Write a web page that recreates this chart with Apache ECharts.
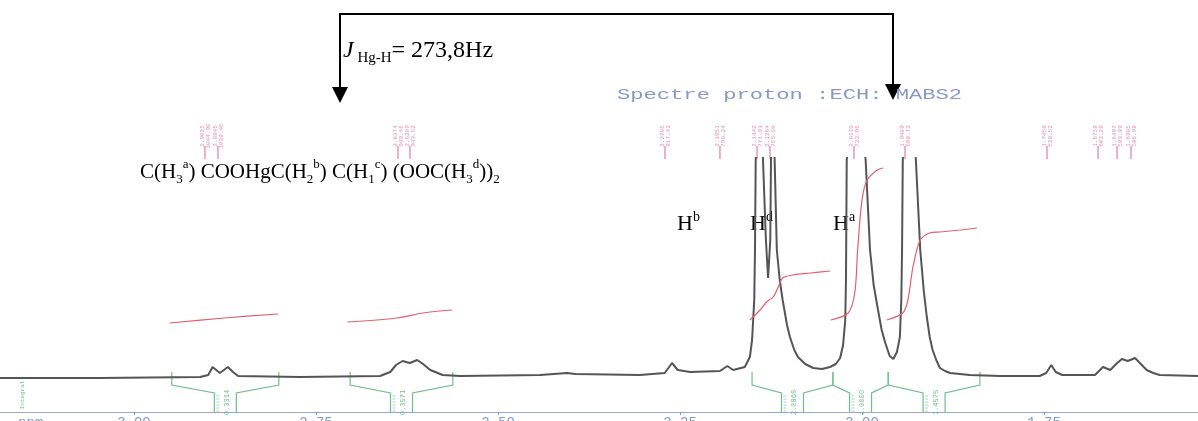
<!DOCTYPE html>
<html><head><meta charset="utf-8">
<script src="https://cdn.jsdelivr.net/npm/echarts@6/dist/echarts.min.js"></script>
<style>html,body{margin:0;padding:0;background:#fff}#c{width:1198px;height:421px}</style>
</head><body><div id="c"></div>
<script>
// ---- data (ppm, intensity above baseline) ----
const tickLabels = [3.00, 2.75, 2.50, 2.25, 2.00, 1.75];
const spectrum = [[3.184,0],[3.047,0],[2.909,1],[2.898,3],[2.892,11],[2.882,5],[2.871,11],[2.864,6],[2.857,2],[2.772,1],[2.662,2],[2.648,6],[2.640,13],[2.631,17],[2.621,15],[2.611,18],[2.603,14],[2.593,8],[2.576,3],[2.552,2],[2.442,3],[2.405,5],[2.394,4],[2.305,3],[2.271,5],[2.261,15],[2.253,8],[2.236,6],[2.195,7],[2.185,12],[2.177,8],[2.161,11],[2.154,21],[2.151,38],[2.148,78],[2.147,128],[2.146,218],[2.140,290],[2.136,218],[2.132,138],[2.129,100],[2.126,138],[2.125,218],[2.122,290],[2.120,218],[2.117,128],[2.113,98],[2.109,78],[2.103,53],[2.099,41],[2.093,28],[2.088,21],[2.078,14],[2.067,10],[2.055,9],[2.044,11],[2.036,14],[2.030,20],[2.026,33],[2.023,58],[2.022,98],[2.021,218],[2.008,300],[1.995,218],[1.989,128],[1.984,93],[1.978,68],[1.973,48],[1.968,35],[1.962,22],[1.957,19],[1.952,26],[1.948,41],[1.946,78],[1.945,128],[1.944,218],[1.935,300],[1.926,218],[1.920,128],[1.915,86],[1.911,61],[1.907,41],[1.903,28],[1.898,18],[1.893,10],[1.886,7],[1.879,5],[1.852,3],[1.810,2],[1.756,2],[1.747,5],[1.740,13],[1.734,6],[1.725,3],[1.680,3],[1.669,11],[1.659,8],[1.651,14],[1.643,19],[1.635,17],[1.625,20],[1.617,14],[1.609,8],[1.600,5],[1.591,3],[1.5385,2]];
const integral1 = [[2.951,55],[2.876,60],[2.802,64]];
const integral2 = [[2.707,56],[2.639,60],[2.603,65],[2.563,68]];
const integral3 = [[2.154,58],[2.140,68],[2.131,76],[2.122,81],[2.115,91],[2.109,100],[2.095,103],[2.071,105],[2.044,107]];
const integral4 = [[2.043,58],[2.019,65],[2.010,85],[2.006,128],[2.000,178],[1.993,198],[1.979,208],[1.971,210]];
const integral5 = [[1.966,58],[1.944,65],[1.937,78],[1.930,111],[1.920,138],[1.907,145],[1.893,146],[1.865,148],[1.842,150]];
const integralRanges = [[2.948,2.801],[2.703,2.562],[2.151,2.040],[2.040,1.964],[1.964,1.838]];
const integralValues = ['0.3314','0.3571','2.0868','1.0000','1.4575'];
const peakPicks = [2.9025,2.8846,2.6374,2.6209,2.2706,2.1951,2.1442,2.1264,2.0110,1.9409,1.7459,1.6758,1.6497,1.6305];

const X_MIN = 1.5385, X_MAX = 3.184;
const green = '#6fbf8e', pink = '#e78fb2', red = '#e1606f', axisBlue = '#9aa6d2';

const chart = echarts.init(document.getElementById('c'), null, {renderer:'canvas'});
const xBase = {type:'value', min:X_MIN, max:X_MAX, inverse:true, splitLine:{show:false}};
const option = {
  animation:false,
  backgroundColor:'#fff',
  grid:[{left:0,right:0,top:0,bottom:9,containLabel:false,outerBoundsMode:'none'},
        {left:0,right:0,top:158,bottom:9,containLabel:false,outerBoundsMode:'none'}],
  xAxis:[
    Object.assign({}, xBase, {gridIndex:0,
      axisLine:{lineStyle:{color:axisBlue,width:1}},
      axisTick:{customValues:tickLabels,length:3,lineStyle:{color:'#8b96c8'}},
      axisLabel:{customValues:tickLabels,formatter:v=>v.toFixed(2),color:'#8b96c8',fontFamily:'Liberation Mono',fontSize:14,margin:4}}),
    Object.assign({}, xBase, {gridIndex:1,show:false})
  ],
  yAxis:[
    {type:'value',gridIndex:0,min:0,max:412,show:false},
    {type:'value',gridIndex:1,min:-34,max:220,show:false}
  ],
  series:[
    {type:'line',xAxisIndex:1,yAxisIndex:1,data:spectrum,showSymbol:false,clip:true,
     lineStyle:{color:'#555',width:2},z:3},
    ...[integral1,integral2,integral3,integral4,integral5].map(d=>({type:'line',xAxisIndex:1,yAxisIndex:1,data:d,showSymbol:false,smooth:0.3,clip:false,lineStyle:{color:red,width:1.2},z:4})),
    {type:'custom',xAxisIndex:1,yAxisIndex:1,data:integralRanges.map((r,i)=>[r[0],r[1],i]),
     renderItem:(params,api)=>{
       const l=api.value(0), r=api.value(1);
       const pl1=api.coord([l,6]), pl2=api.coord([l,-7]);
       const pr1=api.coord([r,6]), pr2=api.coord([r,-7]);
       const by=api.coord([l,-15])[1], bb=api.coord([l,-34])[1];
       const cx=(pl1[0]+pr1[0])/2, hw=11;
       const st={stroke:green,fill:null,lineWidth:1.2};
       const rungs=[];
       for(let yy=by+3; yy<bb; yy+=3){ rungs.push({type:'line',shape:{x1:cx-hw+2,y1:yy,x2:cx-hw+5,y2:yy},style:{stroke:green,lineWidth:0.6}}); }
       return {type:'group',children:[
         {type:'polyline',shape:{points:[pl1,pl2,[cx-hw,by],[cx-hw,bb]]},style:st},
         {type:'polyline',shape:{points:[pr1,pr2,[cx+hw,by],[cx+hw,bb]]},style:st},
         {type:'text',x:cx+2,y:(by+bb)/2,rotation:Math.PI/2,style:{text:integralValues[params.dataIndex],fontSize:7,fill:green,align:'center',verticalAlign:'middle',fontFamily:'Liberation Mono'}}
       ].concat(rungs)};
     },z:2},
    {type:'custom',xAxisIndex:0,yAxisIndex:0,data:peakPicks.map(p=>[p,0]),
     renderItem:(params,api)=>{
       const p=api.value(0);
       const a=api.coord([p,253]), b=api.coord([p,266]), t=api.coord([p,276]);
       return {type:'group',children:[
         {type:'line',shape:{x1:a[0],y1:a[1],x2:b[0],y2:b[1]},style:{stroke:pink,lineWidth:1.4}},
         {type:'text',x:t[0],y:t[1],rotation:Math.PI/2,style:{text:p.toFixed(4)+'\n'+(p*360).toFixed(2),fontSize:6,lineHeight:6,fill:pink,align:'center',verticalAlign:'middle',fontFamily:'Liberation Mono'}}
       ]};
     },z:2}
  ],
  graphic:[
    {type:'polyline',shape:{points:[[340,90],[340,14],[893,14],[893,86]]},style:{stroke:'#000',lineWidth:2,fill:null}},
    {type:'polygon',shape:{points:[[332,87],[348,87],[340,103]]},style:{fill:'#000'}},
    {type:'polygon',shape:{points:[[885,84],[901,84],[893,100]]},style:{fill:'#000'}},
    {type:'text',x:343,y:36,style:{text:'{i|J}{s| Hg-H}{m|= 273,8Hz}',rich:{
      i:{fontFamily:'Liberation Serif',fontStyle:'italic',fontSize:24,lineHeight:30,fill:'#000'},
      s:{fontFamily:'Liberation Serif',fontSize:15,lineHeight:15,verticalAlign:'bottom',fill:'#000'},
      m:{fontFamily:'Liberation Serif',fontSize:24,lineHeight:30,fill:'#000'}}}},
    {type:'text',x:617,y:95,scaleX:1.58,style:{text:'Spectre proton :ECH: MABS2',fontFamily:'Liberation Mono',fontSize:14,fill:'#8a98c8',verticalAlign:'middle'}},
    {type:'text',x:140,y:158,style:{text:'{m|C(H}{b|3}{t|a}{m|) COOHgC(H}{b|2}{t|b}{m|) C(H}{b|1}{t|c}{m|) (OOC(H}{b|3}{t|d}{m|))}{b|2}',rich:{
      m:{fontFamily:'Liberation Serif',fontSize:21,lineHeight:28,fill:'#000'},
      b:{fontFamily:'Liberation Serif',fontSize:13,lineHeight:13,verticalAlign:'bottom',fill:'#000'},
      t:{fontFamily:'Liberation Serif',fontSize:13,lineHeight:13,verticalAlign:'top',fill:'#000'}}}},
    ...[['b',677],['d',750],['a',833]].map(([s,x])=>({type:'text',x:x,y:210,style:{text:'{m|H}{t|'+s+'}',rich:{
      m:{fontFamily:'Liberation Serif',fontSize:22,lineHeight:28,fill:'#000'},
      t:{fontFamily:'Liberation Serif',fontSize:14,lineHeight:14,verticalAlign:'top',fill:'#000'}}}})),
    {type:'text',x:18,y:416,style:{text:'ppm',fontFamily:'Liberation Mono',fontSize:14,fill:'#8b96c8'}},
    {type:'text',x:22,y:395,rotation:Math.PI/2,style:{text:'Integral',fontFamily:'Liberation Mono',fontSize:6,fill:green,align:'center',verticalAlign:'middle'}}
  ]
};
chart.setOption(option);
</script></body></html>
